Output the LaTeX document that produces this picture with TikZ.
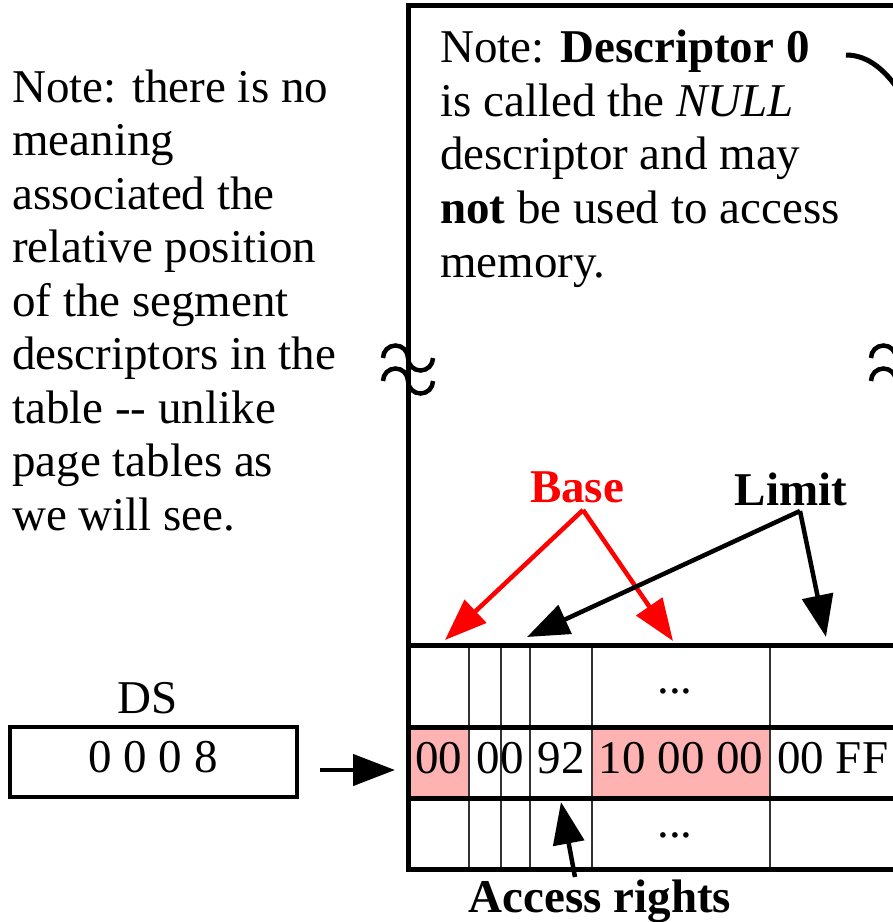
\documentclass[tikz,border=0pt]{standalone}
\usepackage{fontspec}
\setmainfont{Liberation Serif}
\usetikzlibrary{arrows.meta}
\definecolor{cellpink}{RGB}{255,178,178}
\begin{document}
\begin{tikzpicture}[x=1pt,y=-1pt,
  txt/.style={anchor=base west, inner sep=0, font=\fontsize{47}{53.5}\selectfont},
  ctxt/.style={anchor=base, inner sep=0, font=\fontsize{47}{53.5}\selectfont},
  lbl/.style={anchor=base, inner sep=0, font=\fontsize{47}{53.5}\selectfont\bfseries},
  frame/.style={line width=5pt},
  thin col/.style={line width=1.6pt, black!80},
  brk/.style={line width=4.5pt, line cap=butt},
  arr/.style={line width=4.5pt, -{Triangle[length=42pt, width=31pt]}}
]
\useasboundingbox (0,0) rectangle (893,922);

% ---- left note
\foreach \t [count=\i from 0] in {Note: there is no, meaning, associated the, relative position, of the segment, descriptors in the, table -{}- unlike, page tables as, we will see.}
  \node[txt] (left\i) at (12,{102+53.5*\i}) {\t};

% ---- table / frame
\fill[cellpink] (408,727) rectangle (469,798);
\fill[cellpink] (592,727) rectangle (770,798);
\foreach \x in {469,501,530,592,770}
  \draw[thin col] (\x,645) -- (\x,869);
\draw[frame] (905,5.5) -- (408,5.5) -- (408,869) -- (905,869);
\draw[frame] (898,5.5) -- (898,869);
\foreach \y in {645,727,798}
  \draw[frame] (408,\y) -- (905,\y);

% ---- break marks
\foreach \bx in {383,871}{
  \foreach \by in {358,381}{
    \draw[brk] (\bx,\by) arc[start angle=180, end angle=360, radius=12.5]
                         arc[start angle=180, end angle=0, radius=12.5];
  }
}

% ---- right note
\node[txt] (r0) at (440,62) {Note: \textbf{Descriptor 0}};
\node[txt] (r1) at (440,116) {is called the \textit{NULL}};
\node[txt] (r2) at (440,169) {descriptor and may};
\node[txt] (r3) at (440,223) {\textbf{not} be used to access};
\node[txt] (r4) at (440,277) {memory.};
\coordinate (curveStart) at (846,55);
\coordinate (curveEnd) at (905,100);
\draw[line width=5pt] (curveStart) .. controls (868,55) and (887,70) .. (curveEnd);

% ---- cell texts
\node[ctxt] (c1) at (438.5,773) {00};
\node[ctxt] (c2) at (500,773) {00};
\node[ctxt] (c3) at (561,773) {92};
\node[ctxt] (c4) at (681,773) {10 00 00};
\node[txt] (c5) at (777,773) {00 FF};
\node[ctxt] (dots1) at (675,693) {...};
\node[ctxt] (dots2) at (675,837) {...};

% ---- labels and arrows
\node[lbl, text=red] (base) at (577,502) {Base};
\node[lbl] (limit) at (791,505) {Limit};
\node[lbl] (access) at (600,912) {Access rights};
\coordinate (baseFrom) at (583,510);
\coordinate (baseTo1) at (445,640);
\coordinate (baseTo2) at (673,641);
\coordinate (limFrom) at (800,511);
\coordinate (limTo1) at (527,637);
\coordinate (limTo2) at (826,637);
\coordinate (accFrom) at (575,877);
\coordinate (accTo) at (561,802);
\draw[arr, red] (baseFrom) -- (baseTo1);
\draw[arr, red] (baseFrom) -- (baseTo2);
\draw[arr] (limFrom) -- (limTo1);
\draw[arr] (limFrom) -- (limTo2);
\draw[arr] (accFrom) -- (accTo);

% ---- DS register
\node[ctxt] (dslabel) at (148,713) {DS};
\draw[line width=4pt] (10,727) rectangle (297,797);
\node[ctxt] (dsval) at (153,772) {0 0 0 8};
\coordinate (dsFrom) at (320,770);
\coordinate (dsTo) at (395,770);
\draw[arr] (dsFrom) -- (dsTo);
\end{tikzpicture}
\end{document}
